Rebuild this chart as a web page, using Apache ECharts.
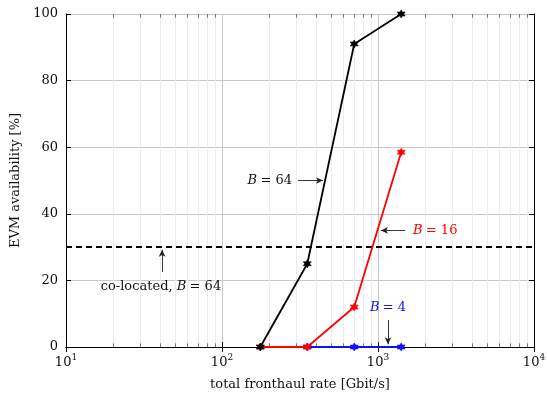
<!DOCTYPE html>
<html><head><meta charset="utf-8">
<script src="https://cdn.jsdelivr.net/npm/echarts@6/dist/echarts.min.js"></script>
<style>html,body{margin:0;padding:0;background:#fff}#c{width:547px;height:394px}</style>
</head><body><div id="c"></div>
<script>
// ---- data ----
const rates = [176, 352, 704, 1408];
const availB64 = [0, 25, 91, 100];
const availB16 = [0, 0, 12, 58.5];
const ratesB4 = [352, 704, 1408];
const availB4 = [0, 0, 0];
const colocatedB64 = 30;
const yTicks = [0, 20, 40, 60, 80, 100];
const xMinor = [];
[10, 100, 1000].forEach(d => { for (let k = 2; k <= 9; k++) xMinor.push(d * k); });

const FONT = 'DejaVu Serif';
function starPath() {
  let p = '';
  for (let i = 0; i < 12; i++) {
    const r = i % 2 === 0 ? 10 : 5.5;
    const a = Math.PI / 2 + i * Math.PI / 6;
    const x = (r * Math.cos(a)).toFixed(2), y = (r * Math.sin(a)).toFixed(2);
    p += (i === 0 ? 'M' : 'L') + x + ',' + y;
  }
  return 'path://' + p + 'Z';
}
const STAR = starPath();
const pairs = (xs, ys) => xs.map((x, i) => [x, ys[i]]);

const chart = echarts.init(document.getElementById('c'), null, {renderer: 'canvas'});

const minorGrid = xMinor.map(v => ({xAxis: v}));
const tickSegs = [];
xMinor.forEach(v => {
  tickSegs.push([{coord: [v, 0]}, {coord: [v, 1.1]}]);
  tickSegs.push([{coord: [v, 100]}, {coord: [v, 98.9]}]);
});

const arrowStyle = {color: '#222', width: 0.9, type: 'solid'};
const arrows = [
  [{coord: [307, 50]}, {coord: [444, 50]}],
  [{coord: [1489, 35]}, {coord: [1045, 35]}],
  [{coord: [1159, 8.1]}, {coord: [1159, 0.8]}],
  [{coord: [41.3, 22.5]}, {coord: [41.3, 29.2]}]
];

function textPt(coord, text, color, align) {
  return {coord: coord, symbol: 'circle', symbolSize: 1, itemStyle: {color: 'rgba(0,0,0,0)'},
    label: {show: true, formatter: text, color: color, position: 'inside', align: align,
      verticalAlign: 'middle', rich: {
        n: {color: color, fontFamily: FONT, fontSize: 13},
        i: {color: color, fontFamily: FONT, fontSize: 13, fontStyle: 'italic'}}}};
}
function lineSeries(name, data, color) {
  return {type: 'line', name: name, data: data, z: 5,
    lineStyle: {width: 1.8, color: color}, symbol: STAR, symbolSize: 8,
    itemStyle: {color: color, borderColor: color, borderWidth: 0.6},
    emphasis: {disabled: true}};
}

const option = {
  animation: false,
  grid: {left: 66, right: 13, top: 14, bottom: 47, outerBoundsMode: 'none', containLabel: false},
  xAxis: [{
    type: 'log', logBase: 10, min: 10, max: 10000,
    name: 'total fronthaul rate [Gbit/s]', nameLocation: 'middle', nameGap: 31,
    nameTextStyle: {fontFamily: FONT, fontSize: 13, color: '#111'},
    axisLine: {show: true, lineStyle: {color: '#000', width: 1}},
    axisTick: {show: true, inside: true, length: 5, lineStyle: {color: '#000'}},
    axisLabel: {showMinLabel: true, showMaxLabel: true, margin: 6,
      formatter: v => '{b|10}{s|' + Math.round(Math.log10(v)) + '}',
      rich: {b: {fontFamily: FONT, fontSize: 13, color: '#111', lineHeight: 16, verticalAlign: 'bottom'},
             s: {fontFamily: FONT, fontSize: 9, color: '#111', lineHeight: 10, verticalAlign: 'top'}}},
    splitLine: {show: true, lineStyle: {color: '#c8c8c8', width: 1}}
  }, {
    type: 'log', logBase: 10, min: 10, max: 10000, position: 'top',
    axisLine: {show: true, lineStyle: {color: '#000', width: 1}},
    axisTick: {show: true, inside: true, length: 5, lineStyle: {color: '#000'}},
    axisLabel: {show: false}, splitLine: {show: false}
  }],
  yAxis: [{
    type: 'value', min: 0, max: 100, interval: 20,
    name: 'EVM availability [%]', nameLocation: 'middle', nameGap: 42,
    nameTextStyle: {fontFamily: FONT, fontSize: 13, color: '#111'},
    axisLine: {show: true, lineStyle: {color: '#000', width: 1}},
    axisTick: {show: true, inside: true, length: 5, lineStyle: {color: '#000'}},
    axisLabel: {fontFamily: FONT, fontSize: 13, color: '#111', margin: 8},
    splitLine: {show: true, lineStyle: {color: '#c8c8c8', width: 1}}
  }, {
    type: 'value', min: 0, max: 100, interval: 20, position: 'right',
    axisLine: {show: true, lineStyle: {color: '#000', width: 1}},
    axisTick: {show: true, inside: true, length: 5, lineStyle: {color: '#000'}},
    axisLabel: {show: false}, splitLine: {show: false}
  }],
  series: [
    {type: 'line', data: [], silent: true, z: 0,
      markLine: {silent: true, symbol: 'none', label: {show: false}, animation: false, z: 0,
        lineStyle: {color: '#ececec', width: 1, type: 'solid'}, data: minorGrid}},
    {type: 'line', data: [], silent: true, z: 1,
      markLine: {silent: true, symbol: 'none', label: {show: false}, animation: false, z: 1,
        lineStyle: {color: '#777', width: 1, type: 'solid'}, data: tickSegs}},
    {type: 'line', data: [], silent: true, z: 3,
      markLine: {silent: true, symbol: 'none', label: {show: false}, animation: false, z: 3,
        lineStyle: {color: '#000', width: 2, type: [6, 4]}, data: [{yAxis: colocatedB64}]}},
    lineSeries('B=4', pairs(ratesB4, availB4), '#1010ff'),
    lineSeries('B=16', pairs(rates, availB16), '#ff0000'),
    lineSeries('B=64', pairs(rates, availB64), '#000000'),
    {type: 'line', data: [], silent: true, z: 6,
      markLine: {silent: true, symbol: ['none', 'arrow'], symbolSize: [5, 7], label: {show: false},
        lineStyle: arrowStyle, data: arrows},
      markPoint: {silent: true, data: [
        textPt([281, 50], '{i|B} {n|= 64}', '#111', 'right'),
        textPt([1675, 35], '{i|B} {n|= 16}', '#ff0000', 'left'),
        textPt([1159, 11.8], '{i|B} {n|= 4}', '#1010ff', 'center'),
        textPt([40.6, 18], '{n|co-located, }{i|B} {n|= 64}', '#111', 'center')
      ]}}
  ]
};
chart.setOption(option);
</script></body></html>
